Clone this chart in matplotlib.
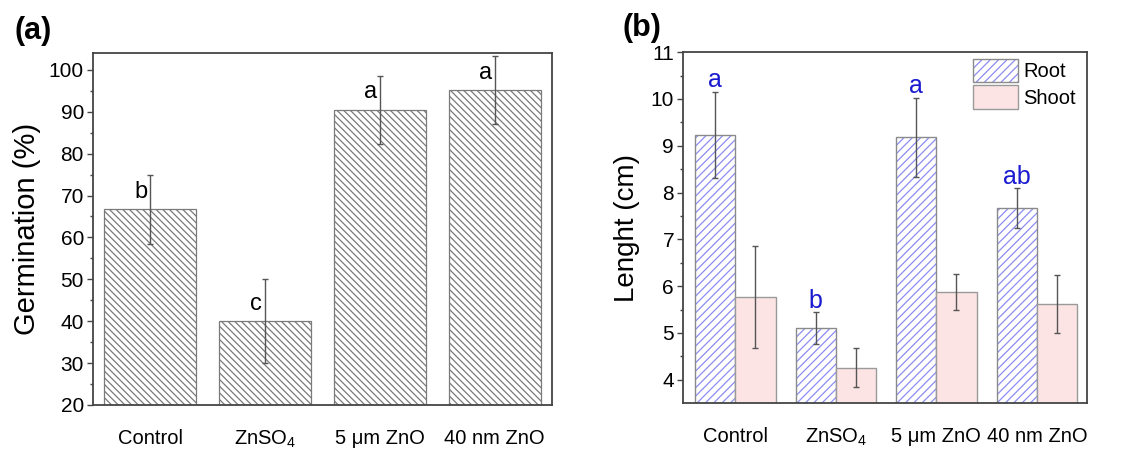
import numpy as np
import matplotlib
matplotlib.use("Agg")
import matplotlib.pyplot as plt
from matplotlib.patches import Patch

plt.rcParams.update({
    "font.family": ["Liberation Sans", "DejaVu Sans"],
    "mathtext.fontset": "custom",
    "mathtext.rm": "Liberation Sans",
    "mathtext.it": "Liberation Sans:italic",
    "mathtext.default": "regular",
    "hatch.linewidth": 0.9,
})

treatments = ["Control", "ZnSO$_4$", "5 \u03bcm ZnO", "40 nm ZnO"]

# panel (a): germination
germ = [66.7, 40.0, 90.5, 95.2]
germ_err = [8.3, 10.0, 8.1, 8.2]
germ_letters = ["b", "c", "a", "a"]

# panel (b): root / shoot length
root = [9.23, 5.10, 9.18, 7.67]
root_err = [0.92, 0.34, 0.84, 0.42]
shoot = [5.77, 4.26, 5.88, 5.62]
shoot_err = [1.08, 0.42, 0.38, 0.63]
root_letters = ["a", "b", "a", "ab"]

SPINE = "#444444"
ERR = "#555555"
ROOT_HATCH = "#8c8cf2"
SHOOT_FILL = "#fce4e4"

fig = plt.figure(figsize=(11.48, 4.5), dpi=100)
ax1 = fig.add_axes([0.081, 0.100, 0.400, 0.782])
ax2 = fig.add_axes([0.595, 0.104, 0.352, 0.780])

x = np.arange(1, len(treatments) + 1)


def style_axis(ax):
    for s in ax.spines.values():
        s.set_color(SPINE)
        s.set_linewidth(1.3)
    ax.tick_params(axis="y", which="major", direction="out", length=4.5,
                   width=1, color=SPINE, labelsize=15, pad=2)
    ax.tick_params(axis="y", which="minor", direction="out", length=2.5,
                   width=1, color=SPINE)
    ax.tick_params(axis="x", length=0, labelsize=14.5, pad=17)
    ax.set_xticks(x)
    ax.set_xticklabels(treatments)


# ---- (a)
ax1.bar(x, germ, 0.8, facecolor="white", edgecolor="#7a7a7a",
        hatch="\\" * 5, linewidth=0.9, zorder=2)
ax1.errorbar(x, germ, yerr=germ_err, fmt="none", ecolor=ERR, elinewidth=1,
             capsize=2.2, capthick=1, zorder=3)
for xi, v, t in zip(x, germ, germ_letters):
    ax1.text(xi - 0.08, v + 2.7, t, ha="center", va="baseline", fontsize=17)
ax1.set_xlim(0.5, 4.5)
ax1.set_ylim(20, 104)
ax1.set_yticks(np.arange(20, 101, 10))
ax1.set_yticks(np.arange(25, 101, 10), minor=True)
ax1.set_ylabel("Germination (%)", fontsize=21, labelpad=6)
style_axis(ax1)

# ---- (b)
w = 0.4
ax2.bar(x - w / 2, root, w, facecolor="white", edgecolor=ROOT_HATCH,
        hatch="////", linewidth=0, zorder=2)
ax2.bar(x - w / 2, root, w, facecolor="none", edgecolor="#8a8a8a",
        linewidth=1.0, zorder=2)
ax2.bar(x + w / 2, shoot, w, facecolor=SHOOT_FILL, edgecolor="#9a9a9a",
        linewidth=1.0, zorder=2)
ax2.errorbar(x - w / 2, root, yerr=root_err, fmt="none", ecolor=ERR,
             elinewidth=1, capsize=2.2, capthick=1, zorder=3)
ax2.errorbar(x + w / 2, shoot, yerr=shoot_err, fmt="none", ecolor=ERR,
             elinewidth=1, capsize=2.2, capthick=1, zorder=3)
for xi, v, e, t in zip(x, root, root_err, root_letters):
    ax2.text(xi - w / 2, v + e + 0.1, t, ha="center", va="baseline",
             fontsize=18, color="#1a1ad0")
ax2.set_xlim(0.48, 4.5)
ax2.set_ylim(3.5, 11)
ax2.set_yticks(np.arange(4, 12, 1))
ax2.set_yticks(np.arange(4.5, 11, 1), minor=True)
ax2.set_ylabel("Lenght (cm)", fontsize=20, labelpad=8)
style_axis(ax2)

h_root = (Patch(facecolor="white", edgecolor=ROOT_HATCH, hatch="////", linewidth=0),
          Patch(facecolor="none", edgecolor="#8a8a8a", linewidth=1.0))
h_shoot = Patch(facecolor=SHOOT_FILL, edgecolor="#9a9a9a", linewidth=1.0)
ax2.legend([h_root, h_shoot], ["Root", "Shoot"], loc="upper left",
           bbox_to_anchor=(0.718, 0.982), frameon=False, fontsize=14.5,
           handlelength=2.2, handleheight=1.45, handletextpad=0.3,
           labelspacing=0.15, borderpad=0, borderaxespad=0)

fig.text(15 / 1148, 1 - 31 / 450, "(a)", fontsize=22, fontweight="bold",
         ha="left", va="center")
fig.text(623 / 1148, 1 - 28 / 450, "(b)", fontsize=22, fontweight="bold",
         ha="left", va="center")

fig.savefig("out.png", dpi=100)
